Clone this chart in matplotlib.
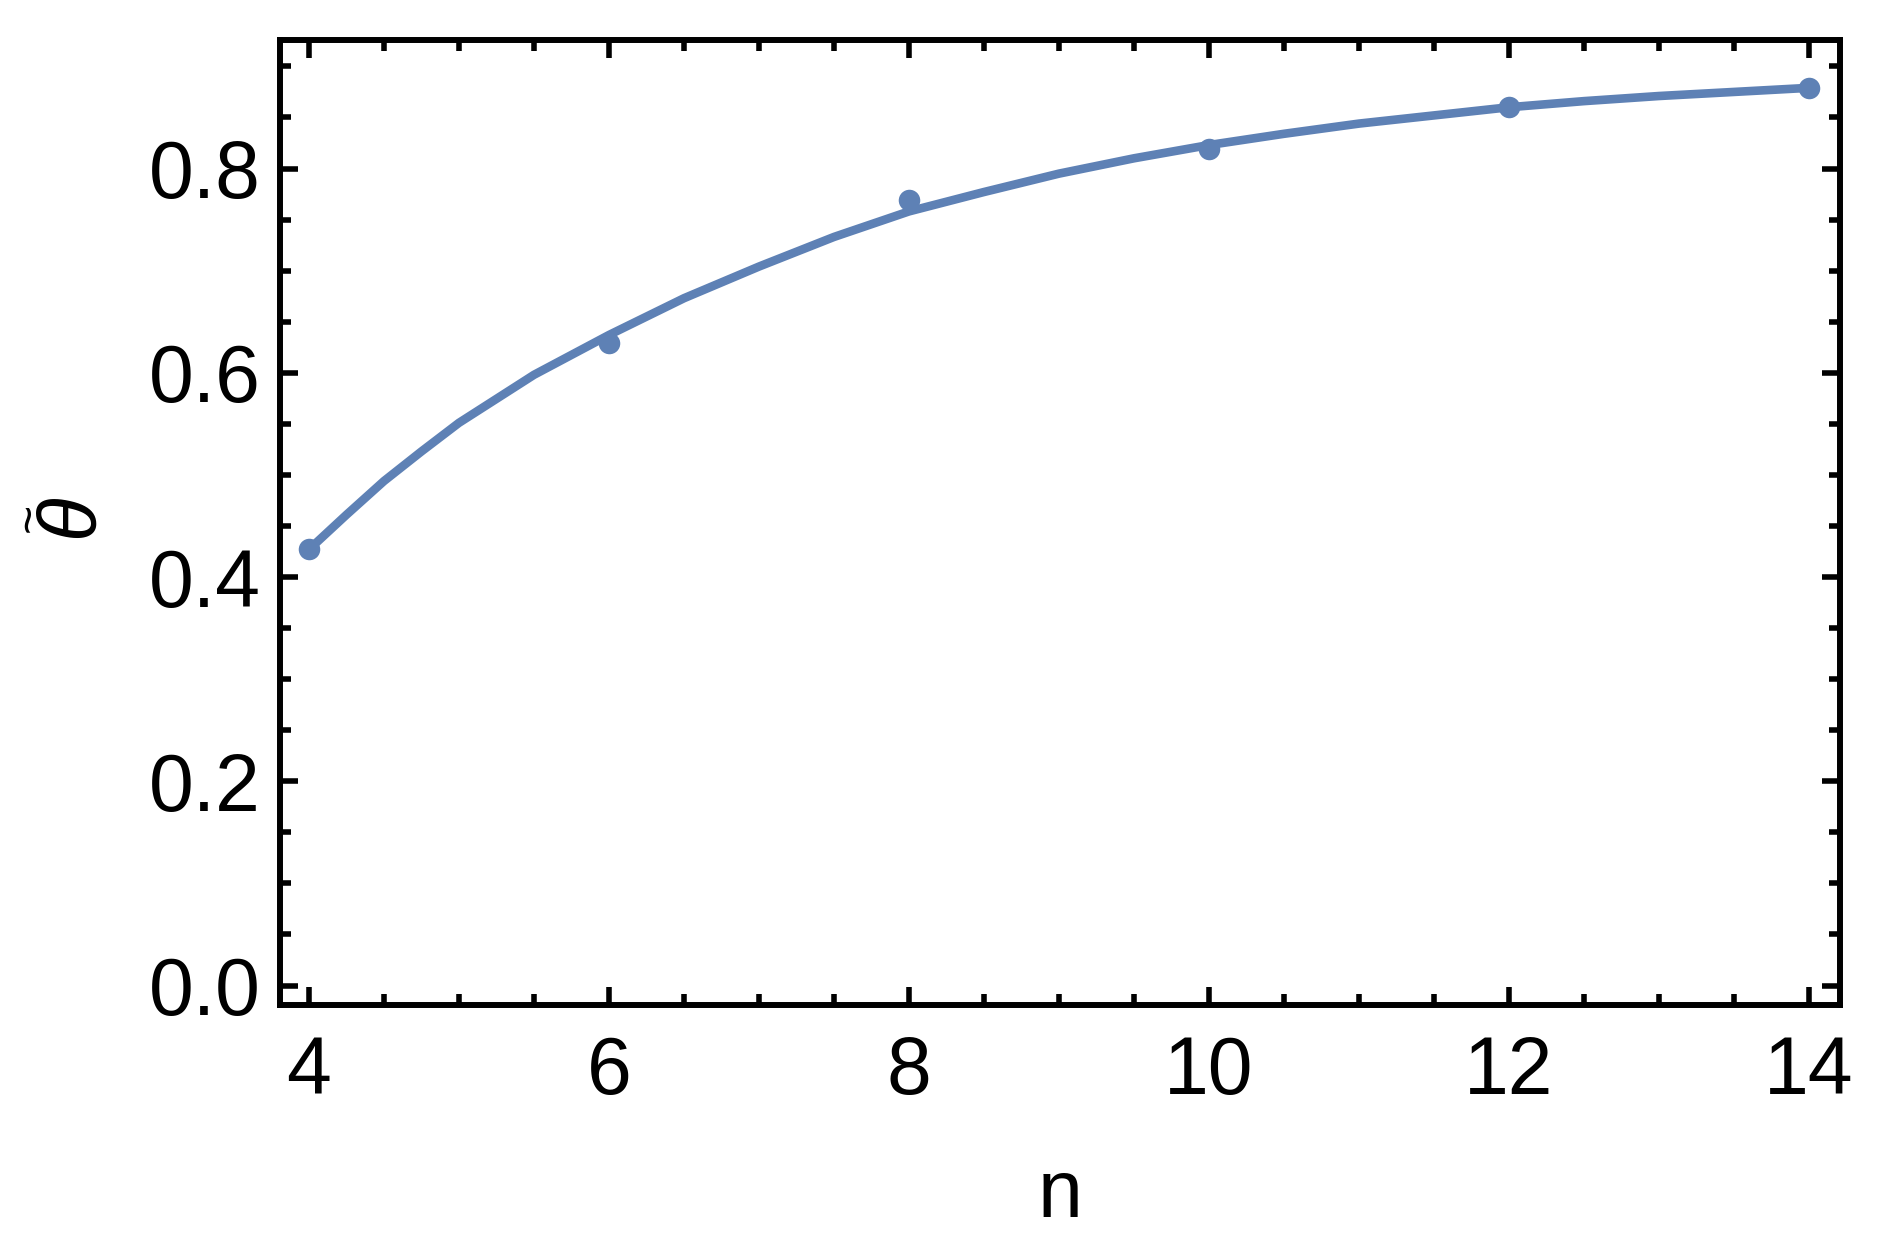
import matplotlib.pyplot as plt
from matplotlib.ticker import MultipleLocator

# data points (n, theta~)
n_pts = [4, 6, 8, 10, 12, 14]
theta_pts = [0.427, 0.629, 0.769, 0.819, 0.860, 0.879]

# fitted curve
n_fit = [4, 4.25, 4.5, 4.75, 5, 5.5, 6, 6.5, 7, 7.5, 8, 8.5, 9, 9.5,
         10, 10.5, 11, 11.5, 12, 12.5, 13, 13.5, 14]
theta_fit = [0.427, 0.461, 0.494, 0.523, 0.551, 0.598, 0.637, 0.673, 0.704,
             0.733, 0.758, 0.777, 0.795, 0.810, 0.823, 0.834, 0.844, 0.852,
             0.860, 0.866, 0.871, 0.875, 0.879]

x_ticks = [4, 6, 8, 10, 12, 14]
y_ticks = [0.0, 0.2, 0.4, 0.6, 0.8]

blue = '#5E81B5'

plt.rcParams['font.family'] = ['Liberation Sans', 'DejaVu Sans']

W, H = 1877, 1244
fig = plt.figure(figsize=(W / 100, H / 100), dpi=100)
ax = fig.add_axes([0.1492, 0.1925, 0.9801 - 0.1492, 0.9678 - 0.1925])

ax.plot(n_fit, theta_fit, color=blue, lw=6.2, solid_joinstyle='round', zorder=2)
ax.plot(n_pts, theta_pts, 'o', color=blue, ms=15.5, mec='none', zorder=3)

ax.set_xlim(3.807, 14.205)
ax.set_ylim(-0.0186, 0.9258)

ax.set_xticks(x_ticks)
ax.set_xticklabels([str(v) for v in x_ticks])
ax.set_yticks(y_ticks)
ax.set_yticklabels([f'{v:.1f}' for v in y_ticks])
ax.xaxis.set_minor_locator(MultipleLocator(0.5))
ax.yaxis.set_minor_locator(MultipleLocator(0.05))

ax.tick_params(which='both', direction='in', top=True, right=True, width=4, color='black')
ax.tick_params(which='major', length=13)
ax.tick_params(which='minor', length=8)
ax.tick_params(axis='x', which='major', labelsize=58, pad=22)
ax.tick_params(axis='y', which='major', labelsize=58, pad=14)

for sp in ax.spines.values():
    sp.set_linewidth(4.3)

ax.set_xlabel('n', fontsize=58, labelpad=34)

# y label: italic theta with a tilde over it (rotated)
fig.text(71 / W, 1 - 516 / H, 'θ', fontsize=58, style='italic', rotation=90,
         ha='center', va='center')
fig.text(31 / W, 1 - 517 / H, '~', fontsize=36, rotation=90,
         ha='center', va='center')

fig.savefig('out.png', dpi=100)
